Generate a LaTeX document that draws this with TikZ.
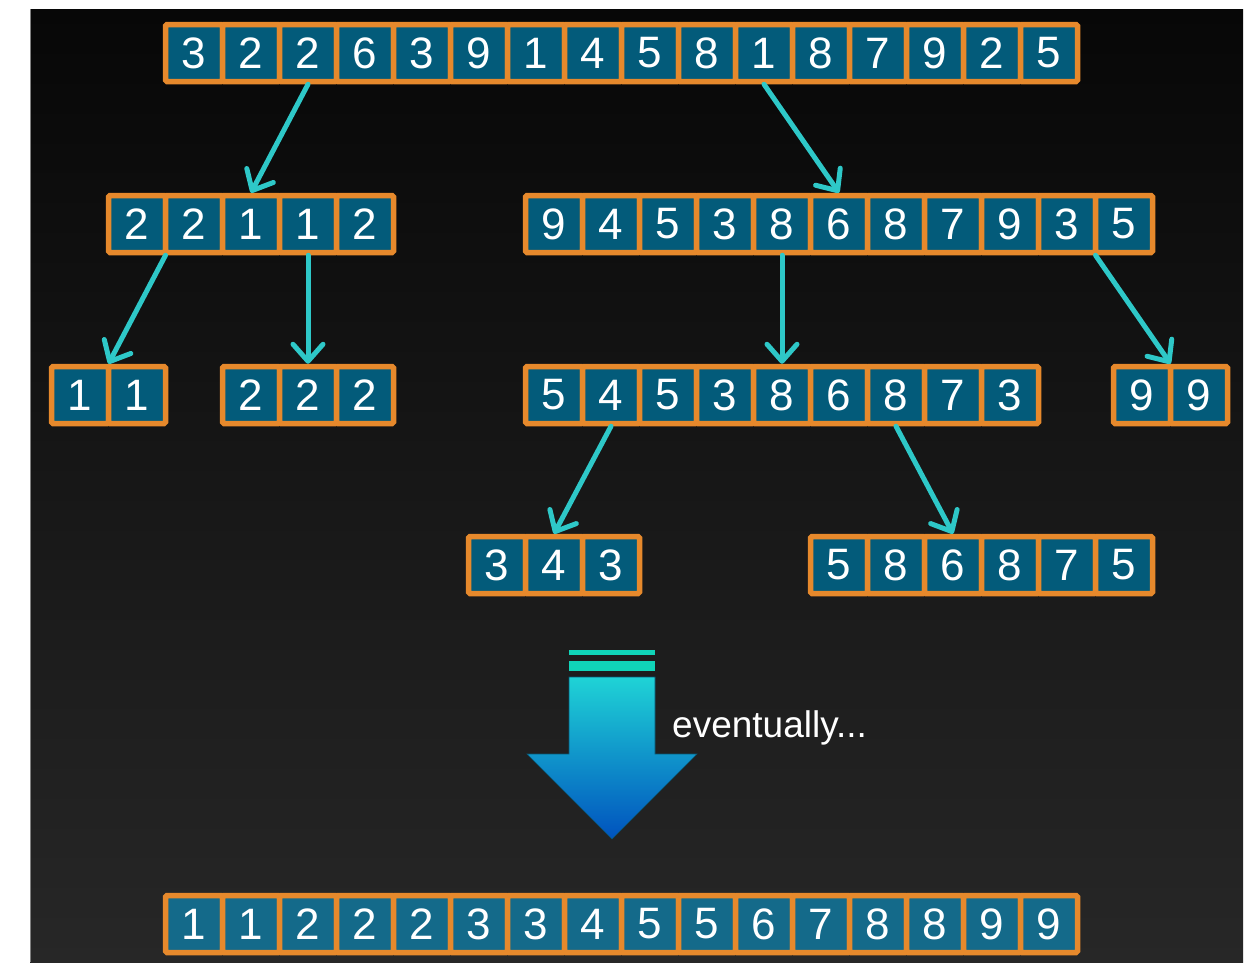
\documentclass[tikz,border=0pt]{standalone}
\usepackage{fontspec}
\setmainfont{Liberation Sans}
\usetikzlibrary{arrows.meta, calc}

\definecolor{cellorange}{RGB}{230,137,44}
\definecolor{cellblue}{RGB}{3,91,122}
\definecolor{doneblue}{RGB}{20,106,138}
\definecolor{splitcyan}{RGB}{46,200,200}
\definecolor{barteal}{RGB}{16,212,184}
\definecolor{bgtop}{RGB}{7,7,7}
\definecolor{bgbottom}{RGB}{39,39,39}
\definecolor{bigtop}{RGB}{31,211,214}
\definecolor{bigmid}{RGB}{18,170,224}
\definecolor{bigbottom}{RGB}{0,82,190}

\tikzset{
  cell/.style={draw=cellorange, fill=cellblue, line width=5.5pt, minimum size=57pt,
    inner sep=0pt, rounded corners=1.5pt, text=white, font=\fontsize{44}{44}\selectfont},
  done/.style={cell, fill=doneblue},
  split/.style={draw=splitcyan, line width=5pt, line cap=round,
    -{Straight Barb[length=17pt, width=30pt, line cap=round, line join=round]}},
}

% style, prefix, x of first cell, y, values
\newcommand{\cellrow}[5]{%
  \foreach \v [count=\i] in {#5}
    \node[#1] (#2\i) at ({#3+57*(\i-1)},#4) {\v};
}

\begin{document}
\begin{tikzpicture}[x=1pt, y=-1pt]
\useasboundingbox (0,0) rectangle (1244,962);
\fill[white] (0,0) rectangle (1244,962);
\shade[top color=bgtop, bottom color=bgbottom] (30,9) rectangle (1243,962);
\draw[gray, line width=1pt] (30,9) -- (30,962);

% the arrays
\cellrow{cell}{t}{194}{53}{3,2,2,6,3,9,1,4,5,8,1,8,7,9,2,5}
\cellrow{cell}{l}{137}{224}{2,2,1,1,2}
\cellrow{cell}{r}{554}{224}{9,4,5,3,8,6,8,7,9,3,5}
\cellrow{cell}{ll}{80}{395}{1,1}
\cellrow{cell}{lr}{251}{395}{2,2,2}
\cellrow{cell}{rl}{554}{395}{5,4,5,3,8,6,8,7,3}
\cellrow{cell}{rr}{1142}{395}{9,9}
\cellrow{cell}{rll}{497}{565}{3,4,3}
\cellrow{cell}{rlr}{839}{565}{5,8,6,8,7,5}
\cellrow{done}{s}{194}{924}{1,1,2,2,2,3,3,4,5,5,6,7,8,8,9,9}

% splits
\draw[split] (t3.south) -- (l3.north);
\draw[split] (t11.south) -- (r6.north);
\draw[split] ($(l1.south)!.5!(l2.south)$) -- ($(ll1.north)!.5!(ll2.north)$);
\draw[split] (l4.south) -- (lr2.north);
\draw[split] (r5.south) -- (rl5.north);
\draw[split] ($(r10.south)!.5!(r11.south)$) -- ($(rr1.north)!.5!(rr2.north)$);
\draw[split] (rl2.south) -- (rll2.north);
\draw[split] (rl7.south) -- (rlr3.north);

% big arrow
\fill[barteal] (569,650) rectangle (655,655);
\fill[barteal] (569,661) rectangle (655,671);
\shadedraw[top color=bigtop, middle color=bigmid, bottom color=bigbottom, draw=black!50!bigmid, line width=0.6pt]
  (569,677) -- (655,677) -- (655,754) -- (697,754) -- (612,839) -- (527,754) -- (569,754) -- cycle;
\node[anchor=base west, inner sep=0pt, text=white, font=\fontsize{37}{37}\selectfont] (note) at (672,737) {eventually...};
\end{tikzpicture}
\end{document}
